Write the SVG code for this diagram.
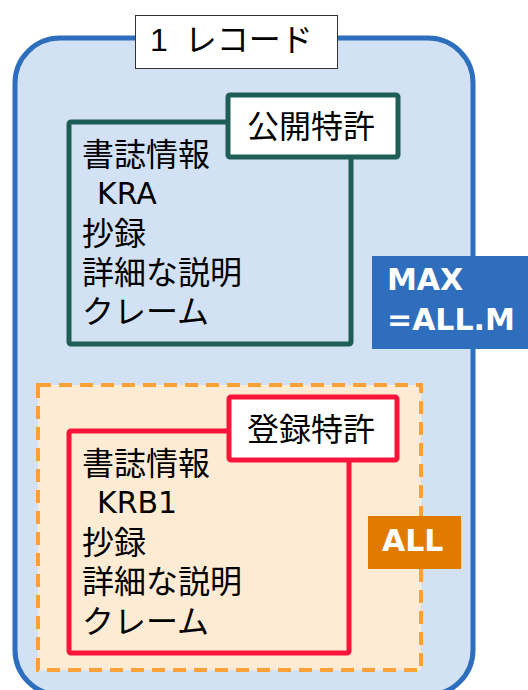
<svg xmlns="http://www.w3.org/2000/svg" width="528" height="690" viewBox="0 0 528 690">
<style>
.jp{font-family:"Liberation Sans","Noto Sans CJK JP",sans-serif;font-size:32px;fill:#000}
.lat{font-family:"DejaVu Sans",sans-serif;font-size:30px}
.bold{font-family:"DejaVu Sans",sans-serif;font-size:30px;font-weight:bold;fill:#fff}
.lbl{fill:#fff;stroke-width:5}
</style>
<g id="record">
<rect x="15" y="38" width="458" height="657" rx="45" ry="45" fill="#D2E1F3" stroke="#2E6EBF" stroke-width="5"/>
<rect x="135.5" y="15.5" width="202" height="53" fill="#fff" stroke="#333" stroke-width="1"/>
<text class="jp" x="150" y="51" word-spacing="8">1 レコード</text>
</g>
<g id="public">
<rect x="69" y="122" width="282" height="222" fill="none" stroke="#1F5E56" stroke-width="5" rx="2"/>
<rect class="lbl" x="228" y="95" width="170" height="62" stroke="#1F5E56" rx="2"/>
<text class="jp" x="247" y="138">公開特許</text>
<text class="jp"><tspan x="82" y="166">書誌情報</tspan><tspan class="lat" x="97" y="204">KRA</tspan><tspan x="82" y="245">抄録</tspan><tspan x="82" y="284">詳細な説明</tspan><tspan x="82" y="323">クレーム</tspan></text>
</g>
<g id="max">
<rect x="372" y="256" width="156" height="93" fill="#2E6EBD"/>
<text class="bold"><tspan x="387" y="290">MAX</tspan><tspan x="387" y="330">=ALL.M</tspan></text>
</g>
<g id="all-group">
<rect x="38" y="385" width="383" height="285" fill="#FDEBD4" stroke="#FBA137" stroke-width="4" stroke-dasharray="13 8"/>
</g>
<g id="registered">
<rect x="69" y="431" width="280" height="222" fill="none" stroke="#FA1439" stroke-width="5" rx="2"/>
<rect class="lbl" x="229" y="397" width="168" height="63" stroke="#FA1439" rx="2"/>
<text class="jp" x="247" y="441">登録特許</text>
<text class="jp"><tspan x="82" y="475">書誌情報</tspan><tspan class="lat" x="97" y="513">KRB1</tspan><tspan x="82" y="554">抄録</tspan><tspan x="82" y="593">詳細な説明</tspan><tspan x="82" y="633">クレーム</tspan></text>
</g>
<g id="all">
<rect x="368" y="516" width="93" height="53" fill="#E07B00"/>
<text class="bold" x="382" y="551">ALL</text>
</g>
<g id="connectors"/>
</svg>
